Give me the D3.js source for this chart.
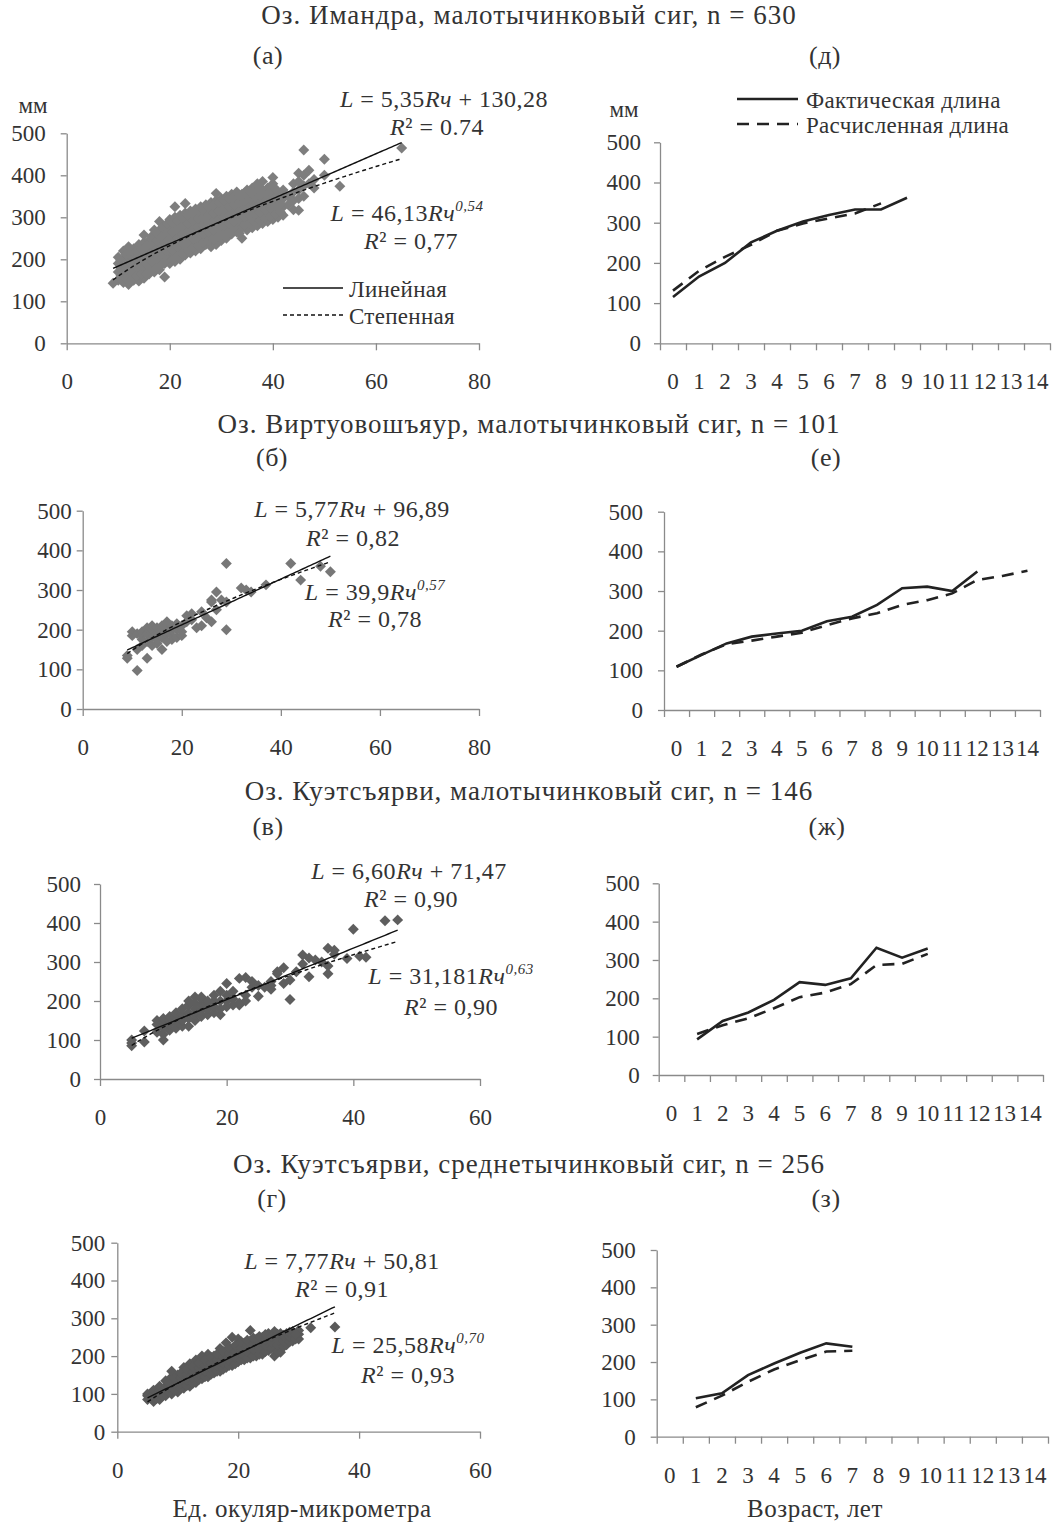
<!DOCTYPE html>
<html lang="ru">
<head>
<meta charset="UTF-8">
<title>Рост сига</title>
<style>
  body { margin: 0; background: #fff; }
  text { font-family: "Liberation Serif", "DejaVu Serif", serif; fill: #333; }
  .axis path, .axis line { stroke: #8a8a8a; stroke-width: 1.3px; }
</style>
</head>
<body>
<script src="https://d3js.org/d3.v7.min.js"></script>
<script>
// ---- data ----
const titles = [
  "Оз. Имандра, малотычинковый сиг, n = 630",
  "Оз. Виртуовошъяур, малотычинковый сиг, n = 101",
  "Оз. Куэтсъярви, малотычинковый сиг, n = 146",
  "Оз. Куэтсъярви, среднетычинковый сиг, n = 256"
];
const letters = [["(а)", "(д)"], ["(б)", "(е)"], ["(в)", "(ж)"], ["(г)", "(з)"]];
const yTicks = [0, 100, 200, 300, 400, 500];
const ageLabels = d3.range(15).map(String);

// scatter points [Rч, L]
const scatterA = [
  [9,143],[10,150],[10,170],[10,190],[10,205],
  [11,145],[11,165],[11,185],[11,200],[11,220],
  [12,140],[12,160],[12,180],[12,200],[12,215],[12,230],
  [13,150],[13,170],[13,190],[13,210],[13,225],
  [14,148],[14,175],[14,195],[14,215],[14,235],
  [15,155],[15,175],[15,200],[15,220],[15,240],[15,258],
  [16,165],[16,185],[16,205],[16,225],[16,245],
  [17,170],[17,190],[17,215],[17,235],[17,255],[17,270],
  [18,175],[18,200],[18,220],[18,245],[18,265],[18,290],
  [19,158],[19,190],[19,210],[19,230],[19,255],[19,275],
  [20,190],[20,210],[20,235],[20,255],[20,275],[20,295],
  [21,195],[21,220],[21,240],[21,260],[21,280],[21,300],[21,325],
  [22,200],[22,225],[22,250],[22,270],[22,290],[22,305],
  [23,210],[23,230],[23,255],[23,275],[23,295],[23,310],[23,333],
  [24,215],[24,240],[24,260],[24,280],[24,300],[24,315],
  [25,220],[25,245],[25,265],[25,285],[25,305],[25,320],
  [26,225],[26,250],[26,270],[26,290],[26,310],[26,325],
  [27,235],[27,255],[27,275],[27,295],[27,315],[27,330],
  [28,230],[28,260],[28,280],[28,300],[28,320],[28,335],
  [29,235],[29,265],[29,285],[29,305],[29,325],[29,340],[29,357],
  [30,245],[30,270],[30,290],[30,310],[30,330],[30,345],
  [31,250],[31,275],[31,295],[31,315],[31,335],[31,350],
  [32,260],[32,280],[32,300],[32,320],[32,340],[32,355],
  [33,265],[33,285],[33,305],[33,325],[33,345],[33,360],
  [34,250],[34,275],[34,295],[34,315],[34,335],[34,355],
  [35,270],[35,290],[35,310],[35,330],[35,350],[35,365],
  [36,275],[36,295],[36,315],[36,335],[36,355],[36,370],
  [37,280],[37,300],[37,320],[37,340],[37,360],[37,380],
  [38,285],[38,305],[38,325],[38,345],[38,365],[38,385],
  [39,290],[39,310],[39,330],[39,350],[39,370],
  [40,295],[40,315],[40,335],[40,355],[40,380],[40,395],
  [41,300],[41,320],[41,340],[41,360],
  [42,305],[42,325],[42,345],[42,365],
  [43,330],[43,350],
  [44,318],[44,340],[44,360],[44,380],
  [45,317],[45,345],[45,365],[45,385],[45,405],
  [46,350],[46,375],[46,400],[46,460],
  [47,380],[47,412],[48,370],[48,390],
  [50,400],[50,438],[53,374],[65,465],
  [10.5,160],[10.5,180],[10.5,198],
  [11.5,155],[11.5,175],[11.5,193],[11.5,212],
  [12.5,150],[12.5,170],[12.5,190],[12.5,208],[12.5,222],
  [13.5,160],[13.5,182],[13.5,202],[13.5,220],
  [14.5,165],[14.5,185],[14.5,205],[14.5,225],
  [15.5,165],[15.5,188],[15.5,210],[15.5,232],
  [16.5,175],[16.5,195],[16.5,215],[16.5,236],[16.5,255],
  [17.5,180],[17.5,203],[17.5,225],[17.5,245],[17.5,262],
  [18.5,188],[18.5,210],[18.5,232],[18.5,255],[18.5,276],
  [19.5,200],[19.5,220],[19.5,243],[19.5,265],[19.5,285],
  [20.5,200],[20.5,222],[20.5,245],[20.5,265],[20.5,287],
  [21.5,208],[21.5,230],[21.5,250],[21.5,270],[21.5,292],
  [22.5,212],[22.5,238],[22.5,260],[22.5,280],[22.5,298],
  [23.5,220],[23.5,242],[23.5,265],[23.5,285],[23.5,305],
  [24.5,228],[24.5,250],[24.5,270],[24.5,292],[24.5,310],
  [25.5,232],[25.5,255],[25.5,275],[25.5,297],[25.5,315],
  [26.5,240],[26.5,260],[26.5,280],[26.5,300],[26.5,318],
  [27.5,245],[27.5,265],[27.5,285],[27.5,305],[27.5,323],
  [28.5,248],[28.5,270],[28.5,290],[28.5,310],[28.5,330],
  [29.5,255],[29.5,275],[29.5,295],[29.5,315],[29.5,335],
  [30.5,258],[30.5,280],[30.5,300],[30.5,320],[30.5,340],
  [31.5,265],[31.5,285],[31.5,305],[31.5,325],[31.5,345],
  [32.5,270],[32.5,290],[32.5,310],[32.5,330],[32.5,350],
  [33.5,262],[33.5,295],[33.5,315],[33.5,335],[33.5,352],
  [34.5,282],[34.5,300],[34.5,320],[34.5,340],[34.5,358],
  [35.5,285],[35.5,305],[35.5,325],[35.5,345],[35.5,362],
  [36.5,288],[36.5,308],[36.5,328],[36.5,348],[36.5,365],
  [37.5,292],[37.5,312],[37.5,332],[37.5,352],[37.5,370],
  [38.5,298],[38.5,318],[38.5,338],[38.5,358],
  [39.5,302],[39.5,322],[39.5,342],[39.5,362],
  [40.5,308],[40.5,328],[40.5,348],[40.5,368],
  [41.5,312],[41.5,332],[41.5,352]
];
const scatterB = [
  [9,128],[9,135],[10,195],[10,185],[11,97],[11,150],[11,190],
  [12,160],[12,175],[12,185],[12,195],[13,128],[13,170],[13,190],[13,205],
  [14,160],[14,180],[14,200],[14,210],[15,165],[15,175],[15,190],[15,205],
  [16,150],[16,180],[16,200],[16,210],[17,170],[17,190],[17,210],[17,220],
  [18,175],[18,185],[18,200],[18,210],[19,180],[19,200],[19,215],
  [20,185],[20,195],[20,210],[21,220],[21,235],[22,225],[22,240],
  [23,205],[24,210],[24,245],[25,230],[26,220],[26,270],[26,275],
  [27,250],[27,295],[28,275],[29,200],[29,270],[29,367],
  [32,305],[33,300],[34,295],[37,313],[42,367],[44,325],[48,360],[50,346]
];
const scatterC = [
  [5,85],[5,92],[5,100],[7,95],[7,123],[9,120],[9,140],[9,150],
  [10,100],[10,115],[10,130],[10,145],[10,155],[11,125],[11,140],[11,150],[11,160],
  [12,130],[12,145],[12,160],[12,170],[13,135],[13,150],[13,165],[13,180],
  [14,135],[14,155],[14,170],[14,190],[14,200],[15,150],[15,165],[15,180],[15,195],[15,210],
  [16,160],[16,175],[16,190],[16,205],[16,210],[17,165],[17,180],[17,195],[17,200],
  [18,170],[18,185],[18,200],[18,215],[19,165],[19,180],[19,200],[19,225],
  [20,185],[20,200],[20,215],[20,245],[21,190],[21,205],[21,225],
  [22,190],[22,195],[22,258],[23,200],[23,215],[23,260],[24,235],[24,250],
  [25,212],[25,240],[26,235],[27,230],[27,240],[27,250],[28,270],[28,275],
  [29,245],[29,285],[30,204],[30,254],[31,275],[32,295],[32,318],
  [33,262],[33,310],[34,305],[35,300],[36,270],[36,290],[36,335],
  [37,320],[37,330],[39,309],[40,384],[41,315],[42,312],[45,406],[47,408]
];
const scatterD = [
  [5,85],[5,95],[5,100],[6,80],[6,90],[6,100],[6,110],
  [7,85],[7,95],[7,110],[7,120],[8,95],[8,105],[8,120],[8,135],
  [9,100],[9,115],[9,130],[9,145],[9,160],[10,105],[10,120],[10,135],[10,150],
  [11,115],[11,130],[11,145],[11,160],[11,170],[12,120],[12,135],[12,150],[12,165],[12,180],
  [13,130],[13,145],[13,160],[13,175],[13,190],[14,140],[14,155],[14,170],[14,185],[14,200],
  [15,145],[15,160],[15,175],[15,190],[15,205],[16,155],[16,170],[16,185],[16,200],
  [17,160],[17,175],[17,190],[17,205],[17,220],[18,170],[18,185],[18,200],[18,215],[18,235],
  [19,175],[19,190],[19,205],[19,220],[19,250],[20,185],[20,200],[20,215],[20,230],[20,245],
  [21,190],[21,205],[21,220],[21,235],[22,195],[22,210],[22,225],[22,240],[22,268],
  [23,200],[23,215],[23,230],[23,245],[24,205],[24,220],[24,235],[24,250],
  [25,215],[25,230],[25,245],[25,260],[26,200],[26,220],[26,235],[26,250],[26,265],
  [27,210],[27,225],[27,245],[27,260],[28,230],[28,245],[28,260],
  [29,240],[29,255],[29,265],[30,245],[30,258],[30,268],[32,275],[36,277],
  [5.5,90],[6.5,88],[6.5,100],[7.5,95],[7.5,108],[8.5,105],[8.5,118],[8.5,130],
  [9.5,110],[9.5,125],[9.5,140],[10.5,115],[10.5,128],[10.5,142],[10.5,155],
  [11.5,122],[11.5,137],[11.5,152],[11.5,165],[12.5,128],[12.5,143],[12.5,158],[12.5,172],
  [13.5,138],[13.5,152],[13.5,168],[13.5,182],[14.5,145],[14.5,160],[14.5,175],[14.5,190],
  [15.5,152],[15.5,168],[15.5,182],[15.5,197],[16.5,160],[16.5,175],[16.5,190],[16.5,205],
  [17.5,165],[17.5,182],[17.5,197],[17.5,212],[18.5,175],[18.5,190],[18.5,207],[18.5,222],
  [19.5,180],[19.5,197],[19.5,212],[19.5,228],[20.5,190],[20.5,207],[20.5,222],[20.5,238],
  [21.5,195],[21.5,212],[21.5,228],[21.5,242],[22.5,200],[22.5,218],[22.5,233],[22.5,248],
  [23.5,205],[23.5,222],[23.5,238],[23.5,252],[24.5,212],[24.5,228],[24.5,243],[24.5,257],
  [25.5,220],[25.5,237],[25.5,252],[26.5,212],[26.5,230],[26.5,245],[26.5,258],
  [27.5,225],[27.5,240],[27.5,255],[28.5,238],[28.5,252],[28.5,263],[29.5,245],[29.5,258]
];

// trend-line coefficients as printed on the chart
const linFits = [[5.35, 130.28], [5.77, 96.89], [6.60, 71.47], [7.77, 50.81]];
const powFits = [[46.13, 0.54], [39.9, 0.57], [31.181, 0.63], [25.58, 0.70]];
const fitR2 = [["0.74", "0,77"], ["0,82", "0,78"], ["0,90", "0,90"], ["0,91", "0,93"]];
const fitRanges = [[9, 65], [9, 50], [5, 47], [5, 36]];

// mean lengths by age (index = age, null = none)
const factD = [115, 166, 200, 251, 280, 303, 319, 333, 333, 362];
const calcD = [131, 180, 215, 245, 280, 298, 311, 323, 348];
const factE = [109, 139, 168, 185, 193, 200, 224, 235, 265, 307, 311, 300, 349];
const calcE = [109, 140, 166, 175, 185, 195, 214, 231, 244, 265, 277, 294, 328, 338, 351];
const factZh = [null, 93, 141, 163, 196, 242, 235, 252, 332, 306, 330];
const calcZh = [null, 107, 130, 148, 174, 203, 215, 237, 287, 290, 316];
const factZ = [null, 103, 116, 165, 196, 225, 250, 241];
const calcZ = [null, 79, 110, 147, 180, 205, 228, 230];

// ---- layout ----
const svg = d3.select("body").append("svg").attr("width", 1052).attr("height", 1528);

const scatterPanels = [
  {left: 66.7, right: 479, top: 133.3, bottom: 343.3, xmax: 80, gap: 15, color: "#7e7e7e",
   eq: [[444, 107], [437, 135], [407, 221], [411, 249]]},
  {left: 82.7, right: 479, top: 510.7, bottom: 709, xmax: 80, gap: 5, color: "#777777",
   eq: [[352, 517], [353, 546], [375, 600], [375, 627]]},
  {left: 100, right: 480, top: 884, bottom: 1079, xmax: 60, gap: 13, color: "#5e5e5e",
   eq: [[409, 879], [411, 907], [451, 984], [451, 1015]]},
  {left: 117.3, right: 480, top: 1242.7, bottom: 1431.7, xmax: 60, gap: 6, color: "#5a5a5a",
   eq: [[342, 1269], [342, 1297], [408, 1353], [408, 1383]]}
];
const agePanels = [
  {left: 660, right: 1050, top: 142.3, bottom: 343.3, gap: 13},
  {left: 664, right: 1040, top: 511.7, bottom: 710, gap: 15},
  {left: 658.7, right: 1043, top: 883.3, bottom: 1075, gap: 13},
  {left: 656.7, right: 1048, top: 1250, bottom: 1436.7, gap: 15}
];
const rowTitleY = [24, 433, 800, 1173];
const rowLetterY = [64, 466, 835, 1207];
const letterX = [[268, 825], [272, 826], [268, 827], [272, 826]];

const scatters = [scatterA, scatterB, scatterC, scatterD];
const facts = [factD, factE, factZh, factZ];
const calcs = [calcD, calcE, calcZh, calcZ];
const fsTick = 23;

function styleAxis(g) {
  g.attr("class", "axis");
  g.selectAll("text").attr("font-size", fsTick).attr("fill", "#333")
    .style("font-family", '"Liberation Serif", serif');
}

function yAxis(p, y) {
  svg.append("g").attr("transform", `translate(${p.left},0)`)
    .call(d3.axisLeft(y).tickValues(yTicks).tickSize(6).tickSizeOuter(0).tickPadding(p.gap))
    .call(styleAxis);
}

function label(x, y, s, size, spacing, anchor) {
  return svg.append("text").attr("x", x).attr("y", y).attr("text-anchor", anchor || "start")
    .attr("font-size", size).attr("letter-spacing", spacing).text(s);
}

// equation text with italic pieces and superscript
function eqText(x, y, parts) {
  const t = svg.append("text").attr("x", x).attr("y", y).attr("text-anchor", "middle")
    .attr("font-size", 24).attr("letter-spacing", 0.5);
  parts.forEach(([s, kind]) => {
    const ts = t.append("tspan").text(s);
    if (kind === "i") ts.attr("font-style", "italic");
    if (kind === "sup") ts.attr("font-style", "italic").attr("font-size", 15).attr("dy", -10);
  });
}

function fmt(v) { return String(v).replace(".", ","); }

scatterPanels.forEach((p, i) => {
  const x = d3.scaleLinear().domain([0, p.xmax]).range([p.left, p.right]);
  const y = d3.scaleLinear().domain([0, 500]).range([p.bottom, p.top]);

  const xa = svg.append("g").attr("transform", `translate(0,${p.bottom})`)
    .call(d3.axisBottom(x).tickValues(d3.range(0, p.xmax + 1, 20)).tickSize(7).tickSizeOuter(0))
    .call(styleAxis);
  xa.selectAll("text").attr("y", 46).attr("dy", null);
  yAxis(p, y);

  svg.append("g").selectAll("path").data(scatters[i]).join("path")
    .attr("d", d3.symbol(d3.symbolSquare, 60))
    .attr("transform", d => `translate(${x(d[0])},${y(d[1])}) rotate(45)`)
    .attr("fill", p.color);

  const [a, b] = linFits[i];
  const [c, k] = powFits[i];
  const [x0, x1] = fitRanges[i];
  const xs = d3.range(x0, x1 + 0.01, 0.5);
  svg.append("path").datum(xs)
    .attr("d", d3.line().x(v => x(v)).y(v => y(a * v + b)))
    .attr("fill", "none").attr("stroke", "#111").attr("stroke-width", 1.4);
  svg.append("path").datum(xs)
    .attr("d", d3.line().x(v => x(v)).y(v => y(c * Math.pow(v, k))))
    .attr("fill", "none").attr("stroke", "#111").attr("stroke-width", 1.4)
    .attr("stroke-dasharray", "4,3");

  const r2 = fitR2[i];
  eqText(p.eq[0][0], p.eq[0][1], [["L", "i"], [" = " + fmt(a.toFixed(2)), ""], ["Rч", "i"], [" + " + fmt(b.toFixed(2)), ""]]);
  eqText(p.eq[1][0], p.eq[1][1], [["R", "i"], ["² = " + r2[0], ""]]);
  eqText(p.eq[2][0], p.eq[2][1], [["L", "i"], [" = " + fmt(c), ""], ["Rч", "i"], [fmt(k.toFixed(2)), "sup"]]);
  eqText(p.eq[3][0], p.eq[3][1], [["R", "i"], ["² = " + r2[1], ""]]);
});

// legend of the trend lines in (а)
svg.append("line").attr("x1", 283).attr("x2", 343).attr("y1", 288).attr("y2", 288)
  .attr("stroke", "#111").attr("stroke-width", 1.4);
svg.append("line").attr("x1", 283).attr("x2", 343).attr("y1", 315).attr("y2", 315)
  .attr("stroke", "#111").attr("stroke-width", 1.4).attr("stroke-dasharray", "4,3");
label(349, 297, "Линейная", 23, 0.3);
label(349, 324, "Степенная", 23, 0.3);
label(33, 113, "мм", 23, 0, "middle");

agePanels.forEach((p, i) => {
  const edge = d3.scaleLinear().domain([0, 15]).range([p.left, p.right]);
  const band = d3.scaleBand().domain(ageLabels).range([p.left, p.right]);
  const y = d3.scaleLinear().domain([0, 500]).range([p.bottom, p.top]);

  svg.append("g").attr("transform", `translate(0,${p.bottom})`)
    .call(d3.axisBottom(edge).tickValues(d3.range(16)).tickFormat("").tickSize(7).tickSizeOuter(0))
    .call(styleAxis);
  svg.append("g").selectAll("text").data(ageLabels).join("text")
    .attr("x", d => band(d) + band.bandwidth() / 2).attr("y", p.bottom + 46)
    .attr("text-anchor", "middle").attr("font-size", fsTick).text(d => d);
  yAxis(p, y);

  const line = d3.line().defined(d => d != null)
    .x((d, j) => band(ageLabels[j]) + band.bandwidth() / 2).y(d => y(d));
  svg.append("path").datum(calcs[i]).attr("d", line)
    .attr("fill", "none").attr("stroke", "#222").attr("stroke-width", 2.6)
    .attr("stroke-dasharray", "12,8");
  svg.append("path").datum(facts[i]).attr("d", line)
    .attr("fill", "none").attr("stroke", "#222").attr("stroke-width", 2.6);
});

// legend of the age panels in (д)
svg.append("line").attr("x1", 737).attr("x2", 798).attr("y1", 99).attr("y2", 99)
  .attr("stroke", "#222").attr("stroke-width", 2.6);
svg.append("line").attr("x1", 737).attr("x2", 798).attr("y1", 124).attr("y2", 124)
  .attr("stroke", "#222").attr("stroke-width", 2.6).attr("stroke-dasharray", "12,8");
label(806, 108, "Фактическая длина", 23, 0.3);
label(806, 133, "Расчисленная длина", 23, 0.3);
label(624, 117, "мм", 23, 0, "middle");

// row titles and panel letters
titles.forEach((t, i) => {
  label(529, rowTitleY[i], t, 27, 1.0, "middle");
  letters[i].forEach((l, j) => label(letterX[i][j], rowLetterY[i], l, 26, 0.5, "middle"));
});

label(302, 1517, "Ед. окуляр-микрометра", 25, 0.5, "middle");
label(815, 1517, "Возраст, лет", 25, 0.5, "middle");
</script>
</body>
</html>
